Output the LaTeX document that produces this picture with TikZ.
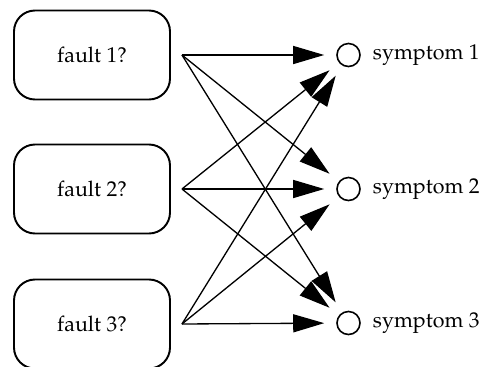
\documentclass[tikz,border=0pt]{standalone}
\usepackage[T1]{fontenc}
\usepackage{mathpazo}
\usepackage{tikz}
\usetikzlibrary{arrows.meta}

\begin{document}
\begin{tikzpicture}[
            fault/.style = {draw, line width=1.1pt,
                        rounded corners=0.42cm,
                        minimum width=3.12cm,
                        minimum height=1.78cm,
                        font=\fontsize{12.2}{14}\selectfont},
            symptom/.style = {circle, draw, line width=0.9pt,
                        minimum size=0.46cm, inner sep=0pt,
                        label={[xshift=0.12cm,
                            font=\fontsize{12.2}{14}\selectfont]right:#1}},
            link/.style = {line width=0.75pt,
                        -{Triangle[length=0.62cm,width=0.36cm]},
                        shorten >=0.24cm}]
            \useasboundingbox (0,0) rectangle (9.6,7.32);
            % Faults
            \node[fault] (fault1) at (1.84,6.22) {fault 1?};
            \node[fault] (fault2) at (1.84,3.54) {fault 2?};
            \node[fault] (fault3) at (1.84,0.84) {fault 3?};
            % Arrow starts
            \coordinate (f1) at ([xshift=0.22cm]fault1.east);
            \coordinate (f2) at ([xshift=0.22cm]fault2.east);
            \coordinate (f3) at ([xshift=0.22cm]fault3.east);
            % Symptoms
            \node[symptom={symptom 1}] (s1) at (6.97,6.22) {};
            \node[symptom={symptom 2}] (s2) at (6.97,3.54) {};
            \node[symptom={symptom 3}] (s3) at (6.97,0.86) {};
            % Every fault can cause every symptom
            \foreach \f in {1,2,3}
                \foreach \s in {1,2,3}
                    \draw[link] (f\f) -- (s\s);
        \end{tikzpicture}
\end{document}
